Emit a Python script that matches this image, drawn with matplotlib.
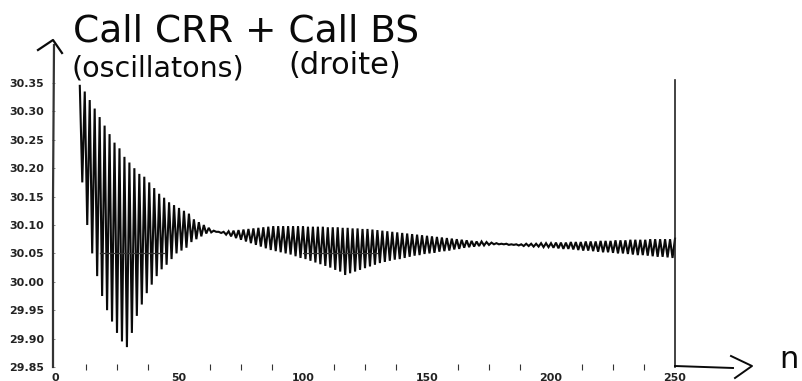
#!/usr/bin/env python
"""Scanned CRR vs BS call price plot with handwritten notes."""

import matplotlib

matplotlib.use("Agg")
import matplotlib.pyplot as plt
import numpy as np

# CRR price at even n, starting at n = 10
crr_even = [
    30.345, 30.335, 30.32, 30.305, 30.29, 30.275, 30.26, 30.245, 30.235, 30.22,
    30.21, 30.20, 30.19, 30.185, 30.175, 30.165, 30.155, 30.148, 30.14, 30.135,
    30.13, 30.125, 30.12, 30.11, 30.105, 30.10, 30.095, 30.09, 30.088, 30.088,
    30.089, 30.090, 30.091, 30.092, 30.093, 30.094, 30.095, 30.096, 30.097, 30.098,
    30.098, 30.098, 30.098, 30.098, 30.098, 30.098, 30.097, 30.097, 30.097, 30.097,
    30.096, 30.096, 30.096, 30.095, 30.095, 30.094, 30.094, 30.093, 30.093, 30.092,
    30.091, 30.090, 30.089, 30.088, 30.087, 30.086, 30.085, 30.084, 30.083, 30.082,
    30.081, 30.080, 30.079, 30.078, 30.077, 30.076, 30.075, 30.074, 30.073, 30.072,
    30.071, 30.071, 30.070, 30.069, 30.068, 30.067, 30.067, 30.066, 30.066, 30.066,
    30.067, 30.067, 30.067, 30.068, 30.068, 30.068, 30.069, 30.069, 30.069, 30.07,
    30.07, 30.07, 30.071, 30.071, 30.071, 30.072, 30.072, 30.072, 30.073, 30.073,
    30.073, 30.074, 30.074, 30.074, 30.074, 30.075, 30.075, 30.075, 30.075, 30.075,
    30.076,
]
# CRR price at odd n, starting at n = 11
crr_odd = [
    30.175, 30.10, 30.05, 30.01, 29.975, 29.95, 29.93, 29.91, 29.895, 29.885,
    29.91, 29.94, 29.96, 29.98, 29.995, 30.01, 30.022, 30.03, 30.04, 30.05,
    30.055, 30.06, 30.07, 30.075, 30.08, 30.085, 30.087, 30.088, 30.086, 30.083,
    30.080, 30.077, 30.074, 30.071, 30.068, 30.065, 30.062, 30.059, 30.056, 30.054,
    30.052, 30.050, 30.048, 30.045, 30.042, 30.040, 30.037, 30.034, 30.031, 30.028,
    30.025, 30.021, 30.018, 30.012, 30.015, 30.018, 30.021, 30.024, 30.027, 30.03,
    30.033, 30.035, 30.037, 30.039, 30.04, 30.042, 30.044, 30.046, 30.047, 30.049,
    30.05, 30.051, 30.053, 30.054, 30.055, 30.057, 30.058, 30.06, 30.061, 30.062,
    30.063, 30.064, 30.065, 30.066, 30.066, 30.066, 30.065, 30.065, 30.064, 30.063,
    30.063, 30.062, 30.062, 30.061, 30.061, 30.06, 30.059, 30.058, 30.058, 30.057,
    30.056, 30.055, 30.055, 30.054, 30.053, 30.052, 30.052, 30.051, 30.05, 30.05,
    30.049, 30.048, 30.047, 30.047, 30.046, 30.045, 30.044, 30.044, 30.043, 30.042,
]
bs_price = 30.05
bs_visible_n = [[18, 44], [100, 130]]
x_major = [0, 50, 100, 150, 200, 250]
x_minor = [12.5, 25, 37.5, 50, 62.5, 75, 87.5, 100, 112.5, 125, 137.5, 150,
           162.5, 175, 187.5, 200, 212.5, 225, 237.5]
y_ticks = [29.85, 29.90, 29.95, 30.00, 30.05, 30.10, 30.15, 30.20, 30.25, 30.30, 30.35]

W, H = 802, 381
LEFT, RIGHT, TOP, BOTTOM = 55, 675, 83, 367
INK = "#0a0a0a"

n_even = np.arange(10, 10 + 2 * len(crr_even), 2)
n_odd = np.arange(11, 11 + 2 * len(crr_odd), 2)
n = np.concatenate([n_even, n_odd])
price = np.concatenate([crr_even, crr_odd])
order = np.argsort(n)

fig = plt.figure(figsize=(W / 100, H / 100), dpi=100)
ax = fig.add_axes([LEFT / W, 1 - BOTTOM / H, (RIGHT - LEFT) / W, (BOTTOM - TOP) / H])
ax.plot(n[order], price[order], color=INK, linewidth=1.5, solid_joinstyle="miter", clip_on=False)
for start, stop in bs_visible_n:
    ax.plot([start, stop], [bs_price, bs_price], color="#333333", linewidth=0.9)

ax.set_xlim(0, 250)
ax.set_ylim(29.85, 30.35)
for side in ["top", "bottom", "left", "right"]:
    ax.spines[side].set_visible(False)

ax.set_xticks(x_major)
ax.set_xticks(x_minor, minor=True)
ax.set_yticks(y_ticks)
ax.set_yticklabels([f"{v:.2f}" for v in y_ticks], fontsize=7.9, fontweight="bold", color="#222222")
ax.set_xticklabels([str(v) for v in x_major], fontsize=7.9, fontweight="bold", color="#222222")
ax.tick_params(axis="x", which="major", length=0, pad=4)
ax.tick_params(axis="x", which="minor", direction="inout", length=4, width=0.8, color="#333333")
ax.tick_params(axis="y", length=2, width=0.6, color="#777777", pad=6)

# overlay in image pixels for the pen marks and scanned axis lines
pen = fig.add_axes([0, 0, 1, 1], facecolor="none")
pen.set_xlim(0, W)
pen.set_ylim(H, 0)
pen.axis("off")
pen.plot([53, 53, 54], [367, 200, 45], color="#333333", linewidth=1.6)
pen.plot([38, 53, 62], [50, 40, 53], color=INK, linewidth=1.6)
pen.plot([RIGHT, RIGHT], [80, BOTTOM], color="#222222", linewidth=1.2)
pen.plot([RIGHT, 733], [366, 368], color=INK, linewidth=1.4)
pen.plot([731, 752, 735], [356, 366, 378], color=INK, linewidth=1.4)

pen.text(73, 32, "Call CRR + Call BS", fontsize=27, color=INK, va="center", ha="left")
pen.text(72, 68, "(oscillatons)", fontsize=20.5, color=INK, va="center", ha="left")
pen.text(288, 66, "(droite)", fontsize=22, color=INK, va="center", ha="left")
pen.text(779, 360, "n", fontsize=22, color=INK, va="center", ha="left")

fig.savefig("out.png", dpi=100)
plt.close(fig)
print("Saved out.png")
